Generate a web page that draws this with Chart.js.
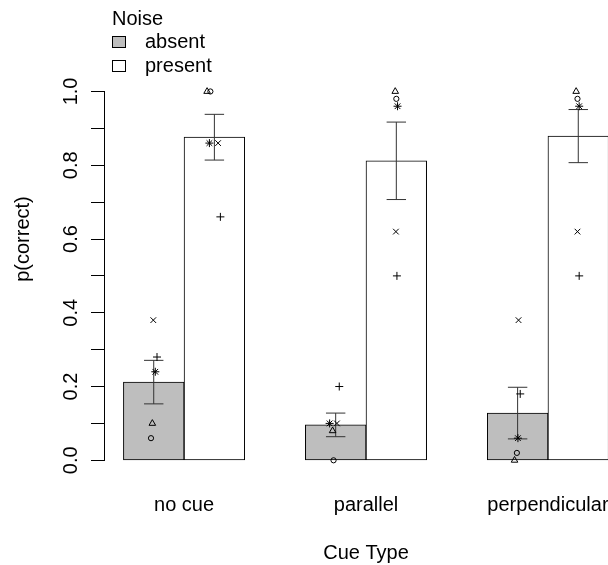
<!DOCTYPE html>
<html>
<head>
<meta charset="utf-8">
<title>p(correct) by cue type</title>
<script src="https://cdn.jsdelivr.net/npm/chart.js@4.4.1/dist/chart.umd.min.js"></script>
<style>
  html, body { margin: 0; padding: 0; overflow: hidden; background: #fff; }
  canvas { display: block; }
</style>
</head>
<body>
<canvas id="myChart" width="640" height="565"></canvas>
<script>
const cueTypes = ["no cue", "parallel", "perpendicular"];
const noiseLevels = ["absent", "present"];
const legendTitle = "Noise";

// group means and standard errors
const meanAbsent = [0.212, 0.096, 0.128];
const meanPresent = [0.876, 0.812, 0.879];
const seAbsent = [0.059, 0.032, 0.070];
const sePresent = [0.062, 0.105, 0.072];

// single subjects, one value per cue type
const s1Absent = [0.06, 0.00, 0.02];
const s1Present = [1.00, 0.98, 0.98];
const s2Absent = [0.10, 0.08, 0.00];
const s2Present = [1.00, 1.00, 1.00];
const s3Absent = [0.28, 0.20, 0.18];
const s3Present = [0.66, 0.50, 0.50];
const s4Absent = [0.38, 0.10, 0.38];
const s4Present = [0.86, 0.62, 0.62];
const s5Absent = [0.24, 0.10, 0.06];
const s5Present = [0.86, 0.96, 0.96];

// jitter per subject: absent/present for each cue type in turn
const s1Jitter = [-0.045, -0.066, -0.035, 0.000, -0.012, -0.013];
const s2Jitter = [-0.023, -0.120, -0.051, -0.018, -0.051, -0.035];
const s3Jitter = [0.054, 0.099, 0.059, 0.010, 0.043, 0.015];
const s4Jitter = [-0.007, 0.061, 0.021, -0.007, 0.015, -0.013];
const s5Jitter = [0.026, -0.082, -0.100, 0.020, 0.005, 0.015];

const yTicks = [0, 0.1, 0.2, 0.3, 0.4, 0.5, 0.6, 0.7, 0.8, 0.9, 1.0];
const yTickLabels = ["0.0", "", "0.2", "", "0.4", "", "0.6", "", "0.8", "", "1.0"];

const FONT = "'Liberation Sans', Arial, Helvetica, sans-serif";
const barColours = ["#BEBEBE", "#FFFFFF"];

// bars are 1 unit wide, pairs separated by 1 unit (like barplot beside=TRUE)
function groupCenter(i) {
  return 2 + 3 * i;
}

function barData(means, shift) {
  return means.map((m, i) => ({ x: groupCenter(i) + shift, y: m }));
}

function subjectPoints(absent, present, jitter) {
  const pts = [];
  cueTypes.forEach((_, i) => {
    pts.push({ x: groupCenter(i) - 0.5 + jitter[2 * i], y: absent[i] });
    pts.push({ x: groupCenter(i) + 0.5 + jitter[2 * i + 1], y: present[i] });
  });
  return pts;
}

function subjectSet(label, data, style, radius) {
  return {
    type: "scatter",
    label,
    data,
    pointStyle: style,
    pointRadius: radius,
    pointBorderWidth: 1,
    borderColor: "#000",
    backgroundColor: "transparent",
    pointBackgroundColor: "transparent",
    clip: false,
    order: 0,
  };
}

const errorBars = {
  id: "errorBars",
  afterDatasetDraw(chart, args) {
    if (args.index !== 0) return;
    const { ctx } = chart;
    const { x, y } = chart.scales;
    const half = x.getPixelForValue(0.16) - x.getPixelForValue(0);
    ctx.save();
    ctx.strokeStyle = "#333";
    ctx.lineWidth = 1;
    [[meanAbsent, seAbsent, -0.5], [meanPresent, sePresent, 0.5]].forEach(([means, se, shift]) => {
      means.forEach((m, i) => {
        const cx = x.getPixelForValue(groupCenter(i) + shift);
        const top = y.getPixelForValue(m + se[i]);
        const bot = y.getPixelForValue(m - se[i]);
        ctx.beginPath();
        ctx.moveTo(cx, top);
        ctx.lineTo(cx, bot);
        ctx.moveTo(cx - half, top);
        ctx.lineTo(cx + half, top);
        ctx.moveTo(cx - half, bot);
        ctx.lineTo(cx + half, bot);
        ctx.stroke();
      });
    });
    ctx.restore();
  },
};

// y axis line only spans the tick range
const axisLine = {
  id: "axisLine",
  afterDraw(chart) {
    const { ctx, chartArea } = chart;
    const y = chart.scales.y;
    const x0 = Math.round(chartArea.left) + 0.5;
    ctx.save();
    ctx.strokeStyle = "#000";
    ctx.lineWidth = 1;
    ctx.beginPath();
    ctx.moveTo(x0, Math.round(y.getPixelForValue(yTicks[0])) + 1);
    ctx.lineTo(x0, Math.round(y.getPixelForValue(yTicks[yTicks.length - 1])));
    ctx.stroke();
    ctx.restore();
  },
};

const noiseLegend = {
  id: "noiseLegend",
  afterDraw(chart) {
    const { ctx } = chart;
    ctx.save();
    ctx.font = "20px " + FONT;
    ctx.textBaseline = "alphabetic";
    ctx.textAlign = "left";
    ctx.fillStyle = "#000";
    ctx.fillText(legendTitle, 112, 24.5);
    noiseLevels.forEach((lvl, i) => {
      const by = 36.5 + 24 * i;
      ctx.fillStyle = barColours[i];
      ctx.fillRect(112.5, by, 13, 11);
      ctx.strokeStyle = "#000";
      ctx.lineWidth = 1;
      ctx.strokeRect(112.5, by, 13, 11);
      ctx.fillStyle = "#000";
      ctx.fillText(lvl, 145, 48 + 24 * i);
    });
    ctx.restore();
  },
};

Chart.defaults.font.family = FONT;
Chart.defaults.font.size = 20;
Chart.defaults.color = "#000";

const barDefaults = {
  type: "bar",
  grouped: false,
  barPercentage: 1,
  categoryPercentage: 1,
  borderWidth: 1,
  borderColor: "#000",
  borderSkipped: false,
  order: 1,
};

const ctx = document.getElementById("myChart").getContext("2d");
new Chart(ctx, {
  type: "bar",
  data: {
    datasets: [
      { ...barDefaults, label: noiseLevels[0], data: barData(meanAbsent, -0.5), backgroundColor: barColours[0] },
      { ...barDefaults, label: noiseLevels[1], data: barData(meanPresent, 0.5), backgroundColor: barColours[1] },
      subjectSet("S1", subjectPoints(s1Absent, s1Present, s1Jitter), "circle", 2.6),
      subjectSet("S2", subjectPoints(s2Absent, s2Present, s2Jitter), "triangle", 3.8),
      subjectSet("S3", subjectPoints(s3Absent, s3Present, s3Jitter), "cross", 4),
      subjectSet("S4", subjectPoints(s4Absent, s4Present, s4Jitter), "crossRot", 4),
      subjectSet("S5", subjectPoints(s5Absent, s5Present, s5Jitter), "star", 4),
    ],
  },
  options: {
    responsive: false,
    animation: false,
    events: [],
    layout: { autoPadding: false, padding: { left: 0, top: 0, right: 12, bottom: 0 } },
    plugins: { legend: { display: false }, tooltip: { enabled: false } },
    scales: {
      x: {
        type: "linear",
        offset: false,
        min: 0.68,
        max: 9.32,
        afterBuildTicks: (scale) => {
          scale.ticks = cueTypes.map((_, i) => ({ value: groupCenter(i) }));
        },
        afterFit: (scale) => {
          scale.height = 87;
          scale.paddingLeft = 0;
          scale.paddingRight = 0;
        },
        border: { display: false },
        grid: { display: false, drawTicks: false },
        ticks: {
          autoSkip: false,
          maxRotation: 0,
          padding: 15,
          callback: (v, i) => cueTypes[i],
        },
        title: { display: true, text: "Cue Type", padding: { top: 0, bottom: 0 } },
      },
      y: {
        type: "linear",
        min: -0.048,
        max: 1.248,
        afterBuildTicks: (scale) => {
          scale.ticks = yTicks.map((v) => ({ value: v }));
        },
        afterFit: (scale) => {
          scale.width = 104;
          scale.paddingTop = 0;
          scale.paddingBottom = 0;
        },
        border: { display: false },
        grid: { drawOnChartArea: false, drawTicks: true, tickLength: 13, color: "#000", lineWidth: 1 },
        ticks: {
          autoSkip: false,
          minRotation: 90,
          maxRotation: 90,
          crossAlign: "center",
          padding: 6,
          callback: (v, i) => yTickLabels[i],
        },
        title: { display: true, text: "p(correct)", padding: { top: 11, bottom: 0 } },
      },
    },
  },
  plugins: [errorBars, axisLine, noiseLegend],
});
</script>
</body>
</html>
